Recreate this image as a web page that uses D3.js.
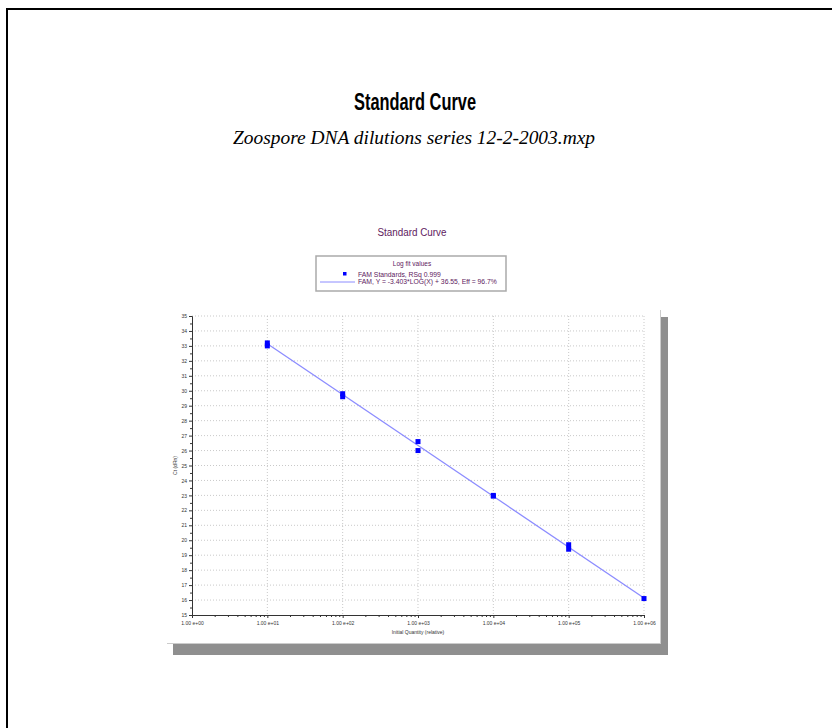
<!DOCTYPE html>
<html>
<head>
<meta charset="utf-8">
<script src="https://cdn.jsdelivr.net/npm/d3@7"></script>
<style>
  body { margin: 0; background: #fff; }
  svg { display: block; }
</style>
</head>
<body>
<svg id="chart"></svg>
<script>
// data
const quantities = [1e1, 1e1, 1e2, 1e2, 1e3, 1e3, 1e4, 1e4, 1e5, 1e5, 1e6];
const ctValues = [33.2, 33.0, 29.8, 29.6, 26.6, 26.0, 23.0, 22.95, 19.7, 19.4, 16.1];
const fitSlope = -3.403;
const fitIntercept = 36.55;
const xTicks = [1e0, 1e1, 1e2, 1e3, 1e4, 1e5, 1e6];
const xTickLabels = ["1.00 e+00", "1.00 e+01", "1.00 e+02", "1.00 e+03", "1.00 e+04", "1.00 e+05", "1.00 e+06"];
const yTicks = d3.range(15, 36);
const legendLines = ["FAM Standards, RSq 0.999", "FAM, Y = -3.403*LOG(X) + 36.55, Eff = 96.7%"];

const width = 832, height = 728;
const svg = d3.select("#chart").attr("width", width).attr("height", height);

// page frame (only top and left visible)
svg.append("rect")
   .attr("x", 7).attr("y", 9)
   .attr("width", 900).attr("height", 900)
   .attr("fill", "none").attr("stroke", "#000").attr("stroke-width", 2);

// page titles
svg.append("text")
   .attr("x", 415).attr("y", 110)
   .attr("text-anchor", "middle")
   .attr("textLength", 122).attr("lengthAdjust", "spacingAndGlyphs")
   .style("font-family", "Liberation Sans Narrow, Liberation Sans, Arial, sans-serif")
   .style("font-weight", "bold").style("font-size", "24px")
   .text("Standard Curve");

svg.append("text")
   .attr("x", 414).attr("y", 144)
   .attr("text-anchor", "middle")
   .attr("textLength", 362).attr("lengthAdjust", "spacingAndGlyphs")
   .style("font-family", "Liberation Serif, Times New Roman, serif")
   .style("font-style", "italic").style("font-size", "18px")
   .text("Zoospore DNA dilutions series 12-2-2003.mxp");

// embedded chart: drop shadow and box
svg.append("rect").attr("x", 661).attr("y", 317).attr("width", 7).attr("height", 338).attr("fill", "#8f8f8f");
svg.append("rect").attr("x", 173).attr("y", 644).attr("width", 495).attr("height", 11).attr("fill", "#8f8f8f");
svg.append("line").attr("x1", 167).attr("x2", 661).attr("y1", 643.5).attr("y2", 643.5).attr("stroke", "#ccc");
svg.append("line").attr("x1", 660.5).attr("x2", 660.5).attr("y1", 310).attr("y2", 644).attr("stroke", "#ccc");

// inner chart title
svg.append("text")
   .attr("x", 412).attr("y", 236)
   .attr("text-anchor", "middle")
   .attr("textLength", 69).attr("lengthAdjust", "spacingAndGlyphs")
   .style("font-family", "Liberation Sans, Arial, sans-serif")
   .style("font-size", "10px").attr("fill", "#5e215e")
   .text("Standard Curve");

// scales
const x = d3.scaleLog().domain([1e0, 1e6]).range([192, 644]);
const y = d3.scaleLinear().domain([15, 35]).range([615, 316]);

// gridlines
const grid = svg.append("g").attr("stroke", "#bbb").attr("stroke-dasharray", "1,2").attr("stroke-width", 0.8);
grid.selectAll(".hg").data(yTicks.slice(1)).enter().append("line")
    .attr("x1", x(1e0)).attr("x2", x(1e6))
    .attr("y1", d => y(d)).attr("y2", d => y(d));
grid.selectAll(".vg").data(xTicks.slice(1)).enter().append("line")
    .attr("x1", d => x(d)).attr("x2", d => x(d))
    .attr("y1", y(35)).attr("y2", y(15));

// axes
const xMinor = [];
for (let e = 0; e < 6; e++) for (let m = 2; m <= 9; m++) xMinor.push(m * Math.pow(10, e));

svg.append("g").attr("transform", `translate(0,${y(15)})`)
   .call(d3.axisBottom(x).tickValues(xTicks).tickFormat((d, i) => xTickLabels[i]).tickSize(3).tickPadding(3));
svg.append("g").attr("transform", `translate(0,${y(15)})`)
   .call(d3.axisBottom(x).tickValues(xMinor).tickFormat("").tickSize(2))
   .select(".domain").remove();

svg.append("g").attr("transform", `translate(${x(1e0)},0)`)
   .call(d3.axisLeft(y).tickValues(yTicks).tickFormat(d3.format("d")).tickSize(3).tickPadding(2));
svg.append("g").attr("transform", `translate(${x(1e0)},0)`)
   .call(d3.axisLeft(y).tickValues(d3.range(15.5, 35, 1)).tickFormat("").tickSize(2))
   .select(".domain").remove();

svg.selectAll(".tick text")
   .style("font-family", "Liberation Sans, Arial, sans-serif")
   .style("font-size", "5px").attr("fill", "#333");
svg.selectAll(".domain, .tick line").attr("stroke", "#333");

// axis titles
svg.append("text")
   .attr("x", 418).attr("y", 634)
   .attr("text-anchor", "middle")
   .style("font-family", "Liberation Sans, Arial, sans-serif")
   .style("font-size", "5px").attr("fill", "#333")
   .text("Initial Quantity (relative)");

svg.append("text")
   .attr("transform", `translate(177,${y(25)}) rotate(-90)`)
   .attr("text-anchor", "middle")
   .style("font-family", "Liberation Sans, Arial, sans-serif")
   .style("font-size", "5px").attr("fill", "#333")
   .text("Ct (dRn)");

// fit line
svg.append("line")
   .attr("x1", x(1e1)).attr("y1", y(fitSlope * 1 + fitIntercept))
   .attr("x2", x(1e6)).attr("y2", y(fitSlope * 6 + fitIntercept))
   .attr("stroke", "#8c8cff").attr("stroke-width", 1.3);

// standards
svg.selectAll(".pt").data(quantities).enter().append("rect")
   .attr("x", d => x(d) - 2.5)
   .attr("y", (d, i) => y(ctValues[i]) - 2.5)
   .attr("width", 5).attr("height", 5)
   .attr("fill", "#0000ff");

// legend
const lg = svg.append("g");
lg.append("rect").attr("x", 316).attr("y", 256).attr("width", 190).attr("height", 35)
  .attr("fill", "#fff").attr("stroke", "#aaa").attr("stroke-width", 1.5);
lg.append("text").attr("x", 412).attr("y", 266).attr("text-anchor", "middle")
  .style("font-family", "Liberation Sans, Arial, sans-serif").style("font-size", "6.5px")
  .attr("fill", "#5e215e").text("Log fit values");
lg.append("rect").attr("x", 343).attr("y", 272).attr("width", 3.5).attr("height", 3.5).attr("fill", "#0000ff");
lg.append("line").attr("x1", 320).attr("x2", 355).attr("y1", 282).attr("y2", 282)
  .attr("stroke", "#8c8cff").attr("stroke-width", 1);
lg.selectAll(".lt").data(legendLines).enter().append("text")
  .attr("x", 358).attr("y", (d, i) => 276.5 + i * 7.5)
  .style("font-family", "Liberation Sans, Arial, sans-serif").style("font-size", "6.8px")
  .attr("fill", "#5e215e").text(d => d);
</script>
</body>
</html>
